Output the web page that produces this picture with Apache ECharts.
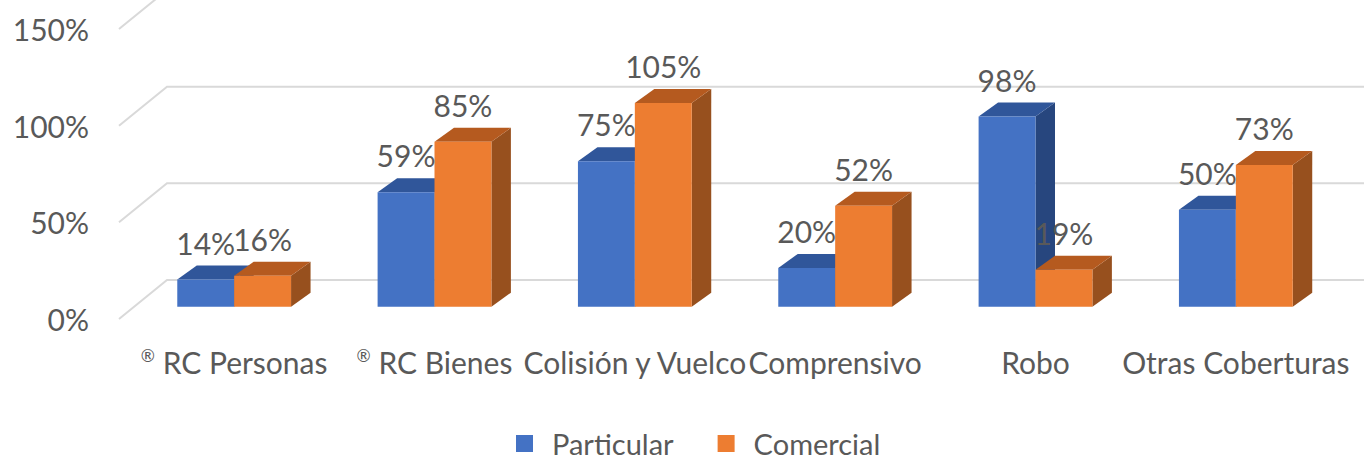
<!DOCTYPE html>
<html>
<head>
<meta charset="utf-8">
<script src="https://cdn.jsdelivr.net/npm/echarts@6/dist/echarts.min.js"></script>
<style>html,body{margin:0;padding:0;background:#fff;}#c{width:1364px;height:460px;}</style>
</head>
<body>
<div id="c"></div>
<script>
const categories = ['® RC Personas', '® RC Bienes', 'Colisión y Vuelco', 'Comprensivo', 'Robo', 'Otras Coberturas'];
const particular = [14, 59, 75, 20, 98, 50];
const comercial = [16, 85, 105, 52, 19, 73];
const yTicks = [0, 50, 100, 150];
const seriesNames = ['Particular', 'Comercial'];

const FONT = 'Lato';
const TXT = '#595959';
const blue = { front: '#4472C4', top: '#30569A', side: '#27467E' };
const orange = { front: '#ED7D31', top: '#B55A1F', side: '#97501E' };

function barRenderer(side, col) {
  return function (params, api) {
    const idx = api.value(0), v = api.value(1);
    const top = api.coord([idx, v]);
    const base = api.coord([idx, 0]);
    const band = api.size([1, 0])[0];
    const w = band * 0.284;
    const x0 = side === 0 ? top[0] - w : top[0];
    const x1 = x0 + w;
    const yT = top[1], yB = base[1];
    const dx = 19.5, dy = -14;
    return {
      type: 'group',
      children: [
        { type: 'polygon', shape: { points: [[x1, yT], [x1 + dx, yT + dy], [x1 + dx, yB + dy], [x1, yB]] }, style: { fill: col.side } },
        { type: 'polygon', shape: { points: [[x0, yT], [x0 + dx, yT + dy], [x1 + dx, yT + dy], [x1, yT]] }, style: { fill: col.top } },
        { type: 'rect', shape: { x: x0, y: yT, width: w, height: yB - yT }, style: { fill: col.front } },
        { type: 'text', z2: 100, style: { text: v + '%', x: (x0 + x1) / 2, y: yT - 37, align: 'center', verticalAlign: 'middle', fill: TXT, font: '30px ' + FONT } }
      ]
    };
  };
}

const chart = echarts.init(document.getElementById('c'), null, { renderer: 'svg' });
chart.setOption({
  animation: false,
  backgroundColor: '#fff',
  grid: [
    { left: 134, width: 1202, top: 15.7, height: 291 },
    { left: 119, right: 0, top: 29, height: 290 }
  ],
  xAxis: [
    {
      type: 'category', gridIndex: 0, data: categories,
      axisLine: { show: false }, axisTick: { show: false },
      axisLabel: {
        interval: 0, margin: 40, color: TXT, fontSize: 30, fontFamily: FONT,
        formatter: function (s) { return s.replace('® ', '{r|®} '); },
        rich: { r: { fontSize: 17, fontFamily: FONT, color: TXT, verticalAlign: 'top', padding: [0, 0, 12, 0] } }
      }
    },
    { type: 'value', gridIndex: 1, min: 0, max: 1, show: false }
  ],
  yAxis: [
    { type: 'value', gridIndex: 0, min: 0, max: 150, interval: 50, show: false },
    {
      type: 'value', gridIndex: 1, min: 0, max: 150, interval: 50,
      axisLine: { show: false }, axisTick: { show: false }, splitLine: { show: false },
      axisLabel: { formatter: '{value}%', color: TXT, fontSize: 30, fontFamily: FONT, margin: 30 }
    }
  ],
  legend: {
    data: seriesNames, left: 516, top: 429, padding: 0, icon: 'rect', itemWidth: 17, itemHeight: 17, itemGap: 44,
    textStyle: { color: TXT, fontSize: 29, lineHeight: 26, fontFamily: FONT, padding: [0, 0, 0, 14] }
  },
  series: [
    {
      type: 'custom', name: 'frame', xAxisIndex: 1, yAxisIndex: 1, silent: true, z: 1,
      data: yTicks.map(v => [0, v]),
      renderItem: function (params, api) {
        const v = api.value(1);
        const p0 = api.coord([0, v]);
        const pe = api.coord([1, v]);
        const p1 = [p0[0] + 48, p0[1] - 39];
        return { type: 'polyline', shape: { points: [p0, p1, [pe[0], p1[1]]] }, style: { stroke: '#D9D9D9', lineWidth: 2, fill: null } };
      }
    },
    {
      type: 'custom', name: seriesNames[0], xAxisIndex: 0, yAxisIndex: 0, z: 2,
      itemStyle: { color: blue.front },
      data: particular.map((v, i) => [i, v]),
      renderItem: barRenderer(0, blue)
    },
    {
      type: 'custom', name: seriesNames[1], xAxisIndex: 0, yAxisIndex: 0, z: 2,
      itemStyle: { color: orange.front },
      data: comercial.map((v, i) => [i, v]),
      renderItem: barRenderer(1, orange)
    }
  ]
});
</script>
</body>
</html>
